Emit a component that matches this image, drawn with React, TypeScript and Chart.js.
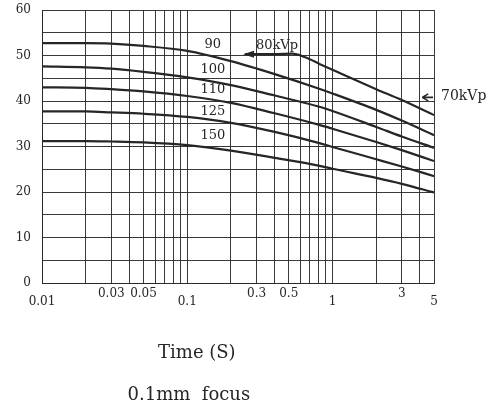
import React, { useEffect, useRef } from 'react';
import { Chart, registerables } from 'chart.js';

Chart.register(...registerables);

// ---- data ----
const times = [0.01, 0.02, 0.03, 0.05, 0.1, 0.2, 0.4, 0.8, 1, 2, 3, 5];
const kvp90 = [52.7, 52.7, 52.6, 52.1, 51.0, 48.75, 45.9, 42.75, 41.65, 38.05, 35.7, 32.5];
const kvp100 = [47.6, 47.4, 47.1, 46.4, 45.2, 43.5, 41.2, 38.8, 37.8, 34.3, 32.2, 29.7];
const kvp110 = [43.0, 42.9, 42.6, 42.1, 41.1, 39.6, 37.3, 34.8, 33.9, 31.0, 29.2, 26.8];
const kvp125 = [37.7, 37.7, 37.5, 37.2, 36.5, 35.2, 33.2, 30.8, 29.9, 27.2, 25.6, 23.5];
const kvp150 = [31.2, 31.2, 31.1, 30.9, 30.3, 29.1, 27.5, 25.8, 25.1, 23.1, 21.8, 19.9];
const times80 = [0.25, 0.4, 0.53, 0.65, 0.82, 1.13, 2, 3, 5];
const kvp80 = [50.3, 50.3, 50.4, 49.6, 48.1, 46.1, 42.6, 40.2, 36.9];

const curveLabels = ['90', '100', '110', '125', '150'];
const xGridValues = [
  0.01, 0.02, 0.03, 0.04, 0.05, 0.06, 0.07, 0.08, 0.09,
  0.1, 0.2, 0.3, 0.4, 0.5, 0.6, 0.7, 0.8, 0.9,
  1, 2, 3, 4, 5,
];
const xTickValues = [0.01, 0.03, 0.05, 0.1, 0.3, 0.5, 1, 3, 5];
const xTickLabels = ['0.01', '0.03', '0.05', '0.1', '0.3', '0.5', '1', '3', '5'];
const xAxisTitle = 'Time (S)';
const subTitle = '0.1mm  focus';
const label80 = '80kVp';
const label70 = '70kVp';

// ---- style / placement (not data) ----
const xTickLow = [true, false, false, true, false, false, true, false, true];
const labelAnchorT = 0.15;
const labelAnchorV = [52.3, 46.8, 42.4, 37.6, 32.3];
const anchor80 = { t: 0.415, v: 52.1 };
const anchor70 = { t: 4.15, v: 40.8 };
const INK = '#262626';
const GRID = 'rgba(40,40,40,0.92)';
const FONT = '"DejaVu Serif", serif';

const annotate = {
  id: 'annotate',
  afterDatasetsDraw(chart: any) {
    const { ctx, chartArea, scales } = chart;
    const x = scales.x;
    const y = scales.y;
    ctx.save();
    ctx.fillStyle = INK;
    ctx.strokeStyle = INK;
    ctx.font = `13px ${FONT}`;
    ctx.textAlign = 'center';
    ctx.textBaseline = 'middle';
    curveLabels.forEach((txt, i) => {
      ctx.fillText(txt, x.getPixelForValue(labelAnchorT), y.getPixelForValue(labelAnchorV[i]));
    });
    // 80kVp label + arrowhead at start of 80kVp curve
    ctx.fillText(label80, x.getPixelForValue(anchor80.t), y.getPixelForValue(anchor80.v));
    const ax = x.getPixelForValue(times80[0]);
    const ay = y.getPixelForValue(kvp80[0]);
    ctx.beginPath();
    ctx.moveTo(ax - 2, ay);
    ctx.lineTo(ax + 9, ay - 3.5);
    ctx.lineTo(ax + 9, ay + 3.5);
    ctx.closePath();
    ctx.fill();
    // 70kVp arrow outside right
    const bx = x.getPixelForValue(anchor70.t);
    const by = y.getPixelForValue(anchor70.v);
    ctx.beginPath();
    ctx.moveTo(bx, by);
    ctx.lineTo(bx + 6, by - 3.5);
    ctx.moveTo(bx, by);
    ctx.lineTo(bx + 6, by + 3.5);
    ctx.moveTo(bx, by);
    ctx.lineTo(chartArea.right - 1, by);
    ctx.lineWidth = 1.6;
    ctx.stroke();
    ctx.font = `14px ${FONT}`;
    ctx.textAlign = 'left';
    ctx.fillText(label70, chartArea.right + 7, by - 1);
    // titles below
    ctx.font = `18px ${FONT}`;
    ctx.textAlign = 'center';
    ctx.textBaseline = 'alphabetic';
    const cx = chartArea.left + (chartArea.right - chartArea.left) * 0.395;
    ctx.fillText(xAxisTitle, cx, chartArea.bottom + 75);
    ctx.fillText(subTitle, cx - 8, chartArea.bottom + 117);
    ctx.restore();
  },
};

export default function App() {
  const ref = useRef<HTMLCanvasElement | null>(null);
  useEffect(() => {
    if (!ref.current) return;
    const mk = (xs: number[], ys: number[]) => xs.map((t, i) => ({ x: t, y: ys[i] }));
    const ds = (data: any) => ({
      data,
      borderColor: INK,
      borderWidth: 2.2,
      pointRadius: 0,
      fill: false,
      cubicInterpolationMode: 'monotone' as const,
    });
    const chart = new Chart(ref.current, {
      type: 'line',
      data: {
        datasets: [
          ds(mk(times, kvp90)),
          ds(mk(times, kvp100)),
          ds(mk(times, kvp110)),
          ds(mk(times, kvp125)),
          ds(mk(times, kvp150)),
          ds(mk(times80, kvp80)),
        ],
      },
      options: {
        animation: false,
        responsive: true,
        maintainAspectRatio: false,
        devicePixelRatio: 1,
        layout: { padding: { left: 0, top: 10, right: 59, bottom: 0 } },
        plugins: { legend: { display: false }, tooltip: { enabled: false }, title: { display: false } },
        scales: {
          x: {
            type: 'logarithmic',
            min: 0.01,
            max: 5,
            afterBuildTicks: (scale: any) => {
              scale.ticks = xGridValues.map((v) => ({ value: v }));
            },
            afterFit: (scale: any) => {
              scale.height = 129;
              scale.paddingLeft = 0;
              scale.paddingRight = 0;
            },
            grid: { color: GRID, lineWidth: 1, drawTicks: false },
            border: { color: GRID, width: 1 },
            ticks: {
              autoSkip: false,
              maxRotation: 0,
              padding: 7,
              color: INK,
              font: { family: FONT, size: 12, lineHeight: 0.65 },
              callback: (value: any) => {
                const i = xTickValues.findIndex((v) => Math.abs(v - Number(value)) < 1e-9);
                if (i < 0) return '';
                return xTickLow[i] ? ['', xTickLabels[i]] : xTickLabels[i];
              },
            },
          },
          y: {
            type: 'linear',
            min: 0,
            max: 60,
            afterFit: (scale: any) => {
              scale.width = 42;
              scale.paddingTop = 0;
              scale.paddingBottom = 0;
            },
            grid: { color: GRID, lineWidth: 1, drawTicks: false },
            border: { color: GRID, width: 1 },
            ticks: {
              stepSize: 5,
              autoSkip: false,
              padding: 11,
              color: INK,
              font: { family: FONT, size: 12 },
              callback: (value: any) => (Number(value) % 10 === 0 ? String(value) : ''),
            },
          },
        },
      },
      plugins: [annotate],
    });
    return () => chart.destroy();
  }, []);
  return (
    <div style={{ position: 'absolute', left: 0, top: 0, width: 493, height: 412, background: '#fff' }}>
      <canvas ref={ref} />
    </div>
  );
}
